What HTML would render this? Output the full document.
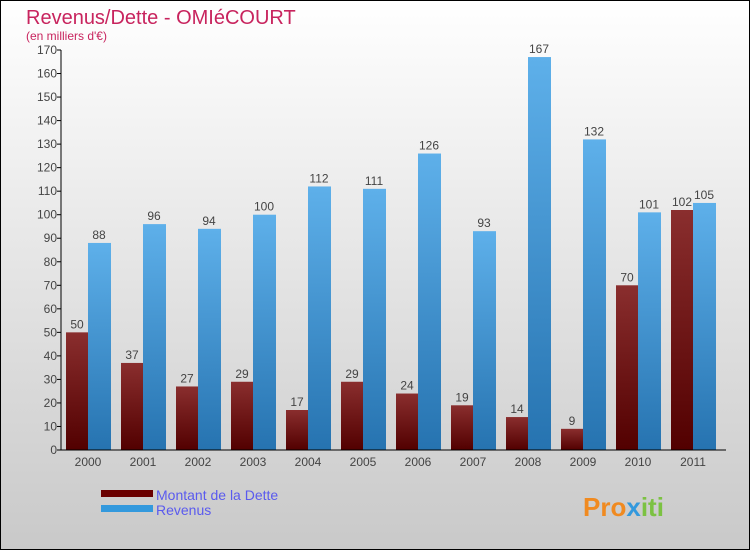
<!DOCTYPE html>
<html><head><meta charset="utf-8"><style>
body{margin:0}
#wrap{width:748px;height:548px;border:1px solid #000;background:linear-gradient(#ffffff,#c9c9c9);position:relative;font-family:"Liberation Sans",sans-serif;overflow:hidden}
</style></head><body>
<div id="wrap">
<svg width="748" height="548" id="svg" style="position:absolute;left:0;top:0">
<defs>
<linearGradient id="gb" x1="0" y1="0" x2="0" y2="1"><stop offset="0" stop-color="#5eb0ea"/><stop offset="1" stop-color="#2673b0"/></linearGradient>
<linearGradient id="gr" x1="0" y1="0" x2="0" y2="1"><stop offset="0" stop-color="#8a2e2e"/><stop offset="1" stop-color="#520000"/></linearGradient>
</defs>
<text x="25" y="23" font-size="20" fill="#c8245e">Revenus/Dette - OMIéCOURT</text>
<text x="25" y="39" font-size="12" fill="#c8245e">(en milliers d'€)</text>
<g id="plot"></g>
<rect x="100" y="489" width="52" height="7" fill="#6a0000"/>
<rect x="100" y="504" width="52" height="7" fill="#3399dd"/>
<text x="155" y="499" font-size="14" fill="#5a5aee">Montant de la Dette</text>
<text x="155" y="514" font-size="14" fill="#5a5aee">Revenus</text>
<text x="582" y="515" font-size="26" font-weight="bold" fill="#f08a20">Pro<tspan fill="#3399dd">x</tspan><tspan fill="#7cc242">iti</tspan></text>
</svg>
</div>
<script>
const years=["2000","2001","2002","2003","2004","2005","2006","2007","2008","2009","2010","2011"];
const debt=[50,37,27,29,17,29,24,19,14,9,70,102];
const revenue=[88,96,94,100,112,111,126,93,167,132,101,105];
const yTicks=[0,10,20,30,40,50,60,70,80,90,100,110,120,130,140,150,160,170];
const NS="http://www.w3.org/2000/svg";
const g=document.getElementById('plot');
const y0=449,yMax=170,yPix=400,x0=60,step=55;
function Y(v){return y0-v/yMax*yPix;}
function X(i){return x0+5+i*step;}
function mk(t,a){const e=document.createElementNS(NS,t);for(const k in a)e.setAttribute(k,a[k]);g.appendChild(e);return e;}
yTicks.forEach(v=>{
  const l=mk('line',{x1:x0-4,x2:x0,y1:Y(v),y2:Y(v),stroke:'#000'});
  
  
  const t=mk('text',{x:x0-4,y:Y(v)+4,'font-size':12,'text-anchor':'end',fill:'#444'});
  t.textContent=v;
  
  
});
years.forEach((yr,i)=>{
  const xd=X(i);
  const bd=mk('rect',{x:xd,y:Y(debt[i]),width:22,height:y0-Y(debt[i]),fill:'url(#gr)'});
  
  
  const br=mk('rect',{x:xd+22,y:Y(revenue[i]),width:23,height:y0-Y(revenue[i]),fill:'url(#gb)'});
  
  
  const td=mk('text',{x:xd+11,y:Y(debt[i])-4,'font-size':12,'text-anchor':'middle',fill:'#444'});
  td.textContent=debt[i];
  
  
  const tr=mk('text',{x:xd+33,y:Y(revenue[i])-4,'font-size':12,'text-anchor':'middle',fill:'#444'});
  tr.textContent=revenue[i];
  
  
  const tl=mk('text',{x:xd+22,y:y0+16,'font-size':12,'text-anchor':'middle',fill:'#444'});
  tl.textContent=yr;
  
  
});
const ax=mk('line',{x1:x0,x2:x0,y1:Y(170),y2:y0,stroke:'#000'});


const bx=mk('line',{x1:x0,x2:725,y1:y0,y2:y0,stroke:'#000'});


</script>
</body></html>
